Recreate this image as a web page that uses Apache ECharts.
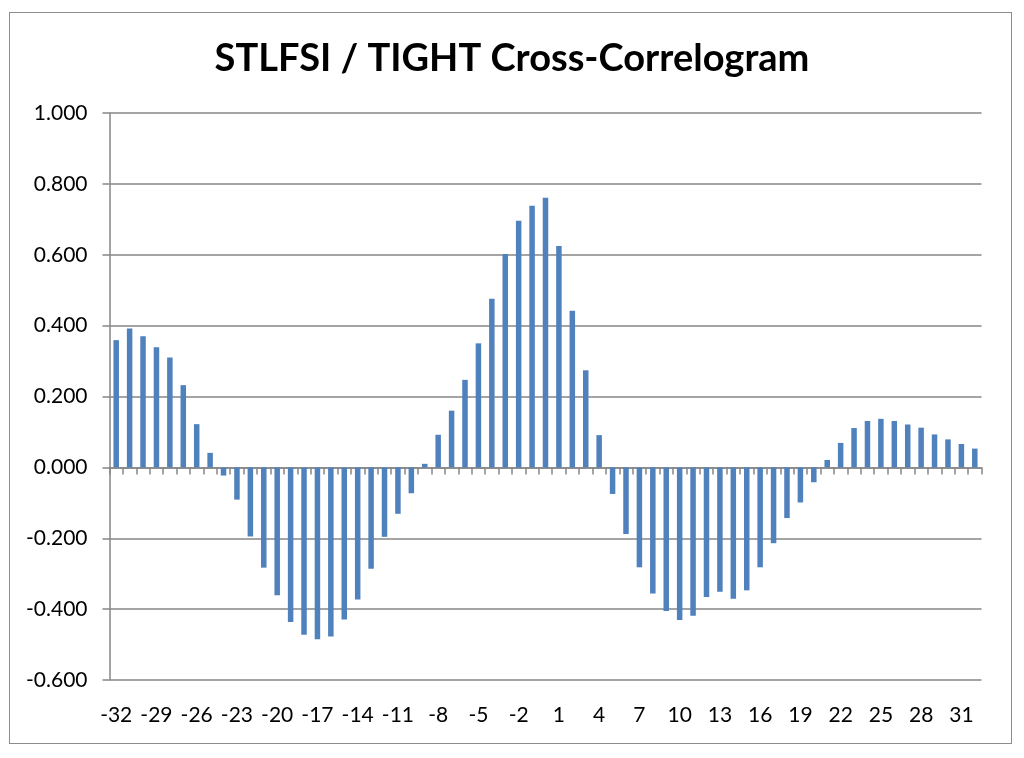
<!DOCTYPE html>
<html>
<head>
<meta charset="utf-8">
<script src="https://cdn.jsdelivr.net/npm/echarts@6/dist/echarts.min.js"></script>
<style>
html,body{margin:0;padding:0;background:#fff;}
#frame{position:absolute;left:9px;top:12px;width:1003px;height:732px;border:1px solid #8c8c8c;box-sizing:border-box;}
#chart{position:absolute;left:0;top:0;width:1024px;height:758px;}
</style>
</head>
<body>
<div id="frame"></div>
<div id="chart"></div>
<script>
const lags = [];
for (let k = -32; k <= 32; k++) lags.push(String(k));
const correlations = [
  0.359, 0.392, 0.370, 0.339, 0.310, 0.232, 0.122, 0.041,
  -0.023, -0.091, -0.195, -0.283, -0.361, -0.436, -0.472, -0.485,
  -0.477, -0.429, -0.373, -0.286, -0.196, -0.131, -0.073, 0.010,
  0.092, 0.160, 0.247, 0.350, 0.476, 0.602, 0.696, 0.738,
  0.761, 0.625, 0.442, 0.274, 0.091, -0.075, -0.188, -0.282,
  -0.356, -0.405, -0.431, -0.419, -0.366, -0.351, -0.371, -0.347,
  -0.282, -0.214, -0.143, -0.099, -0.042, 0.021, 0.069, 0.111,
  0.131, 0.137, 0.131, 0.121, 0.112, 0.093, 0.079, 0.066, 0.053
];
const yTicks = { min: -0.6, max: 1.0, interval: 0.2 };
const titleText = 'STLFSI / TIGHT Cross-Correlogram';

const FONT = 'Lato, "Open Sans", sans-serif';
const chart = echarts.init(document.getElementById('chart'));
chart.setOption({
  animation: false,
  title: {
    text: titleText,
    left: 'center',
    top: 35,
    textStyle: { fontFamily: FONT, fontWeight: 'bold', fontSize: 38, color: '#000' }
  },
  grid: { left: 109.5, right: 42.5, top: 113, bottom: 78, containLabel: false },
  xAxis: [
    {
      type: 'category',
      data: lags,
      position: 'bottom',
      axisLine: { onZero: true, lineStyle: { color: '#868686', width: 1.5 } },
      axisTick: { show: true, alignWithLabel: false, interval: 0, length: 7, inside: false, lineStyle: { color: '#868686', width: 1.5 } },
      axisLabel: { show: false },
      splitLine: { show: false }
    },
    {
      type: 'category',
      data: lags,
      position: 'bottom',
      axisLine: { show: false, onZero: false },
      axisTick: { show: false },
      axisLabel: { show: true, interval: 2, margin: 25, fontFamily: FONT, fontSize: 21, color: '#000' },
      splitLine: { show: false }
    }
  ],
  yAxis: {
    type: 'value',
    min: yTicks.min,
    max: yTicks.max,
    interval: yTicks.interval,
    axisLine: { show: true, lineStyle: { color: '#868686', width: 1.5 } },
    axisTick: { show: true, length: 7, lineStyle: { color: '#868686', width: 1.5 } },
    axisLabel: { margin: 22, fontFamily: FONT, fontSize: 21, color: '#000', formatter: v => v.toFixed(3) },
    splitLine: { show: true, lineStyle: { color: '#868686', width: 1.5 } }
  },
  series: [{
    type: 'bar',
    xAxisIndex: 0,
    data: correlations,
    barWidth: '41%',
    itemStyle: { color: '#4F81BD' }
  }]
});
</script>
</body>
</html>
